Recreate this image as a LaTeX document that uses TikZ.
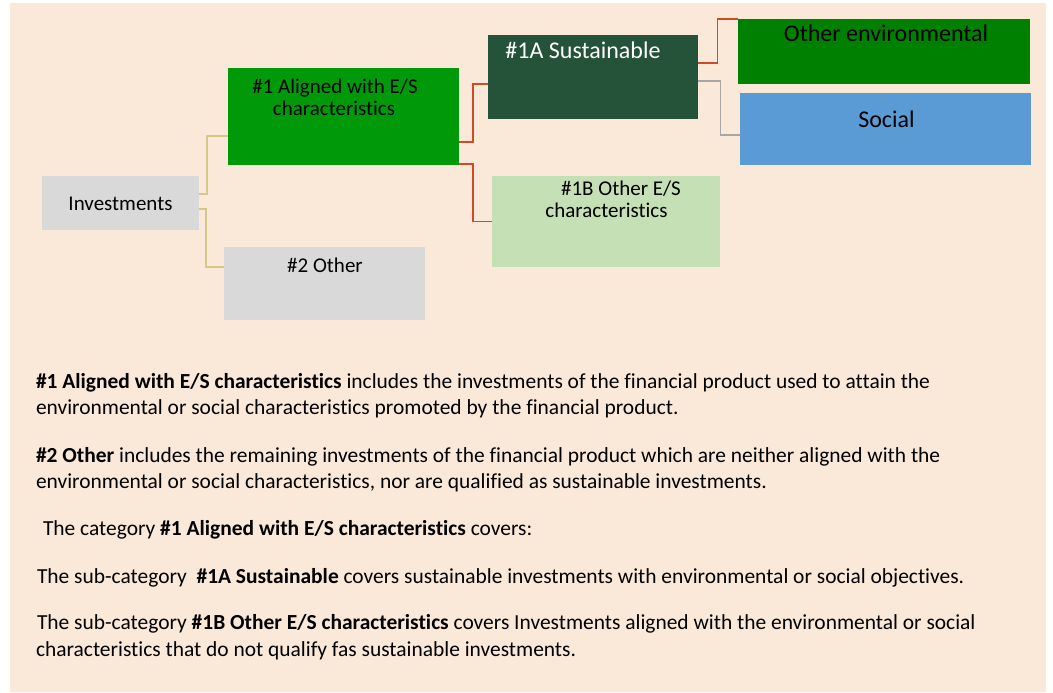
\documentclass[tikz,border=0pt]{standalone}
\usepackage{fontspec}
\setmainfont{Carlito}[Ligatures=NoCommon]
\usetikzlibrary{calc}
\definecolor{bgpeach}{HTML}{FAE8D8}
\definecolor{boxgrey}{HTML}{D9D9D9}
\definecolor{brightgreen}{HTML}{00990A}
\definecolor{darkgreen}{HTML}{245339}
\definecolor{lightgreen}{HTML}{C5E0B4}
\definecolor{envgreen}{HTML}{008000}
\definecolor{socialblue}{HTML}{5B9BD5}
\definecolor{connyellow}{HTML}{D4C98A}
\definecolor{connred}{HTML}{D24B28}
\definecolor{conngrey}{HTML}{A6A6A6}
\begin{document}
\begin{tikzpicture}[x=1pt,y=-1pt,
  box/.style={rectangle, inner sep=0pt, outer sep=0pt, draw=none},
  lbl/.style={inner sep=0pt, outer sep=0pt, anchor=base, font=\fontsize{21}{25}\selectfont},
  biglbl/.style={lbl, font=\fontsize{24}{28}\selectfont},
  body/.style={inner sep=0pt, outer sep=0pt, anchor=base west, font=\fontsize{21.45}{25}\selectfont},
  yconn/.style={draw=connyellow, line width=1.6pt},
  rconn/.style={draw=connred, line width=1.8pt},
  gconn/.style={draw=conngrey, line width=1.6pt}]
\useasboundingbox (0,0) rectangle (1053,693);
\fill[white] (0,0) rectangle (1053,693);
\fill[bgpeach] (10,3) rectangle (1046,692);

% boxes
\node[box, fill=boxgrey, minimum width=157pt, minimum height=54pt] (inv) at (120.5,203) {};
\node[box, fill=brightgreen, minimum width=231pt, minimum height=97pt] (al) at (343.5,116.5) {};
\node[box, fill=boxgrey, minimum width=201pt, minimum height=73pt] (oth) at (324.5,283.5) {};
\node[box, fill=darkgreen, minimum width=210pt, minimum height=84pt] (sa) at (592.5,77) {};
\node[box, fill=lightgreen, minimum width=228pt, minimum height=91pt] (sb) at (605.5,221.5) {};
\node[box, fill=envgreen, minimum width=292pt, minimum height=65pt] (env) at (883.5,51.5) {};
\node[box, fill=socialblue, minimum width=291pt, minimum height=72pt] (soc) at (885,129) {};

% box labels
\node[lbl] (tinv) at (120.5,210) {Investments};
\node[lbl] (tal1) at (335,94) {\#1 Aligned with E/S};
\node[lbl] (tal2) at (334,116) {characteristics};
\node[lbl] (toth) at (325,272) {\#2 Other};
\node[biglbl, text=white] (tsa) at (583,59) {\#1A Sustainable};
\node[lbl] (tsb1) at (621,195) {\#1B Other E/S};
\node[lbl] (tsb2) at (606.5,217) {characteristics};
\node[biglbl] (tenv) at (886,42) {Other environmental};
\node[biglbl] (tsoc) at (886.5,128) {Social};

% connectors
\draw[yconn] ([yshift=9pt]inv.east) -- ++(8,0) |- ([yshift=-19.5pt]al.west);
\draw[yconn] ([yshift=-6pt]inv.east) -- ++(7,0) |- ([yshift=16.5pt]oth.west);
\draw[rconn] ([yshift=-25.5pt]al.east) -- ++(14,0) |- ([yshift=-7pt]sa.west);
\draw[rconn] ([yshift=-47.5pt]al.east) -- ++(14,0) |- (sb.west);
\draw[rconn] ([yshift=14pt]sa.east) -- ++(20,0) |- ([yshift=32.5pt]env.west);
\draw[gconn] ([yshift=-4pt]sa.east) -- ++(23,0) |- ([yshift=-6pt]soc.west);

% body text
\node[body] (p1a) at (36,388) {\textbf{\#1 Aligned with E/S characteristics} includes the investments of the financial product used to attain the};
\node[body] (p1b) at (36,414) {environmental or social characteristics promoted by the financial product.};
\node[body] (p2a) at (36,462) {\textbf{\#2 Other} includes the remaining investments of the financial product which are neither aligned with the};
\node[body] (p2b) at (36,488) {environmental or social characteristics, nor are qualified as sustainable investments.};
\node[body] (p3) at (43,535) {The category \textbf{\#1 Aligned with E/S characteristics} covers:};
\node[body] (p4) at (37,583) {The sub-category\ \ \textbf{\#1A Sustainable} covers sustainable investments with environmental or social objectives.};
\node[body] (p5a) at (37,629) {The sub-category \textbf{\#1B Other E/S characteristics} covers Investments aligned with the environmental or social};
\node[body] (p5b) at (36,656) {characteristics that do not qualify fas sustainable investments.};
\end{tikzpicture}
\end{document}
